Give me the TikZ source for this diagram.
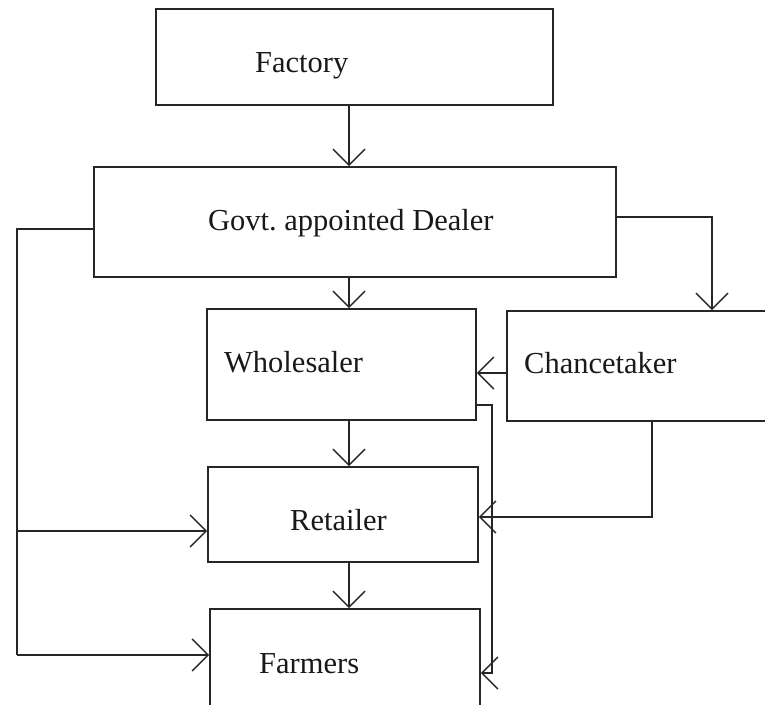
\documentclass[tikz,border=0pt]{standalone}
\usepackage{fontspec}
\setmainfont{Liberation Serif}
\usetikzlibrary{arrows.meta}
\begin{document}
\begin{tikzpicture}[x=1pt,y=1pt,
  box/.style={draw=black!85, line width=1.6pt, rectangle, inner sep=0pt},
  lbl/.style={anchor=base west, inner sep=0pt, text=black!90, font=\fontsize{30.5}{36}\selectfont},
  conn/.style={draw=black!85, line width=1.5pt},
  arr/.style={conn, -{Straight Barb[length=16pt,width=32pt,line width=1.5pt]}}]
\clip (0,0) rectangle (765,704);
\fill[white] (0,0) rectangle (765,704);
% boxes
\node[box, minimum width=397pt, minimum height=96pt] (fac) at (354.5,647) {};
\node[box, minimum width=522pt, minimum height=110pt] (gov) at (355,482) {};
\node[box, minimum width=269pt, minimum height=111pt] (whl) at (341.5,339.5) {};
\node[box, minimum width=293pt, minimum height=110pt] (cha) at (653.5,338) {};
\node[box, minimum width=270pt, minimum height=95pt] (ret) at (343,189.5) {};
\node[box, minimum width=270pt, minimum height=131pt] (far) at (345,29.5) {};
% labels
\node[lbl] (tfac) at (255,631) {Factory};
\node[lbl] (tgov) at (208,473) {Govt.\ appointed Dealer};
\node[lbl] (twhl) at (224,331) {Wholesaler};
\node[lbl] (tcha) at (524,330) {Chancetaker};
\node[lbl] (tret) at (290,173) {Retailer};
\node[lbl] (tfar) at (259,31) {Farmers};
% route coordinates
\coordinate (cx) at (349,0);
\coordinate (gr) at (712,487);
\coordinate (gl) at (17,475);
\coordinate (rl) at (17,173);
\coordinate (fl) at (17,49);
\coordinate (cw) at (0,331);
\coordinate (cr) at (652,187);
\coordinate (wr) at (492,299);
\coordinate (wf) at (492,31);
% connectors
\draw[arr] (fac.south -| cx) -- (gov.north -| cx);
\draw[arr] (gov.south -| cx) -- (whl.north -| cx);
\draw[arr] (whl.south -| cx) -- (ret.north -| cx);
\draw[arr] (ret.south -| cx) -- (far.north -| cx);
\draw[arr] (gov.east |- gr) -- (gr) -- (cha.north -| gr);
\draw[conn] (gov.west |- gl) -- (gl) -- (fl);
\draw[arr] (rl) -- (ret.west |- rl);
\draw[arr] (fl) -- (far.west |- fl);
\draw[arr] (cha.west |- cw) -- (whl.east |- cw);
\draw[arr] (cha.south -| cr) -- (cr) -- (ret.east |- cr);
\draw[arr] (whl.east |- wr) -- (wr) -- (wf) -- (far.east |- wf);
\end{tikzpicture}
\end{document}
